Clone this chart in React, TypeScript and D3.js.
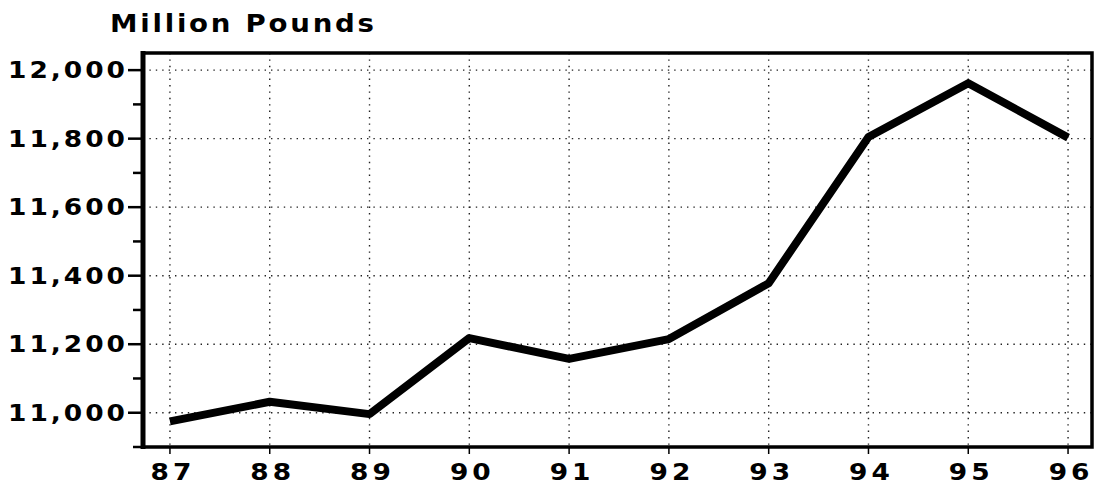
import * as d3 from 'd3';
import React, {useEffect, useRef} from 'react';

const years: number[] = [87, 88, 89, 90, 91, 92, 93, 94, 95, 96];
const pounds: number[] = [10975, 11032, 10996, 11218, 11157, 11215, 11378, 11805, 11962, 11803];
const majorTicks: number[] = [11000, 11200, 11400, 11600, 11800, 12000];
const minorTicks: number[] = [10900, 11100, 11300, 11500, 11700, 11900];

const W = 1096;
const H = 486;

export default function App() {
  const ref = useRef<SVGSVGElement>(null);

  useEffect(() => {
    const svg = d3.select(ref.current);
    svg.selectAll('*').remove();

    const left = 143, right = 1092, top = 53, bottom = 447;
    const x = d3.scaleLinear().domain([86.73, 96.24]).range([left, right]);
    const y = d3.scaleLinear().domain([10900, 12050]).range([bottom, top]);
    const font = '"DejaVu Sans", sans-serif';
    const sx = 1.15;

    // dotted grid
    const grid = svg.append('g')
      .attr('stroke', '#222')
      .attr('stroke-width', 1.4)
      .attr('stroke-dasharray', '1.4 5');
    grid.selectAll('line.h')
      .data(majorTicks)
      .enter().append('line')
      .attr('x1', left).attr('x2', right)
      .attr('y1', d => y(d)).attr('y2', d => y(d));
    grid.selectAll('line.v')
      .data(years)
      .enter().append('line')
      .attr('x1', d => x(d)).attr('x2', d => x(d))
      .attr('y1', top).attr('y2', bottom);

    // frame
    svg.append('rect')
      .attr('x', left).attr('y', top)
      .attr('width', right - left).attr('height', bottom - top)
      .attr('fill', 'none')
      .attr('stroke', '#000')
      .attr('stroke-width', 3.5);
    svg.append('line')
      .attr('x1', left).attr('x2', left)
      .attr('y1', top - 2).attr('y2', bottom + 2)
      .attr('stroke', '#000').attr('stroke-width', 5);

    // y ticks
    svg.selectAll('line.ymaj')
      .data(majorTicks)
      .enter().append('line')
      .attr('x1', left - 15).attr('x2', left)
      .attr('y1', d => y(d)).attr('y2', d => y(d))
      .attr('stroke', '#000').attr('stroke-width', 2.5);
    svg.selectAll('line.ymin')
      .data(minorTicks)
      .enter().append('line')
      .attr('x1', left - 10).attr('x2', left)
      .attr('y1', d => y(d)).attr('y2', d => y(d))
      .attr('stroke', '#000').attr('stroke-width', 2.5);
    svg.selectAll('line.xt')
      .data(years)
      .enter().append('line')
      .attr('x1', d => x(d)).attr('x2', d => x(d))
      .attr('y1', bottom).attr('y2', bottom + 7)
      .attr('stroke', '#000').attr('stroke-width', 1.5);

    const fmt = d3.format(',');
    svg.selectAll('text.yl')
      .data(majorTicks)
      .enter().append('text')
      .attr('transform', d => `translate(128,${y(d) + 8}) scale(${sx},1)`)
      .attr('text-anchor', 'end')
      .attr('font-family', font)
      .attr('font-weight', 'bold')
      .attr('font-size', 23)
      .attr('letter-spacing', 2.6)
      .text(d => fmt(d));

    svg.selectAll('text.xl')
      .data(years)
      .enter().append('text')
      .attr('transform', d => `translate(${x(d) + 3},480) scale(${sx},1)`)
      .attr('text-anchor', 'middle')
      .attr('font-family', font)
      .attr('font-weight', 'bold')
      .attr('font-size', 23)
      .attr('letter-spacing', 3.5)
      .text(d => String(d));

    svg.append('text')
      .attr('transform', `translate(110,32) scale(${sx},1)`)
      .attr('font-family', font)
      .attr('font-weight', 'bold')
      .attr('font-size', 24)
      .attr('letter-spacing', 2.4)
      .text('Million Pounds');

    const line = d3.line<number>()
      .x((_, i) => x(years[i]))
      .y(d => y(d));
    svg.append('path')
      .datum(pounds)
      .attr('d', line)
      .attr('fill', 'none')
      .attr('stroke', '#000')
      .attr('stroke-width', 8)
      .attr('stroke-linejoin', 'round');
  }, []);

  return (
    <svg ref={ref} width={W} height={H}
      style={{position: 'absolute', left: 0, top: 0, background: '#fff'}} />
  );
}
